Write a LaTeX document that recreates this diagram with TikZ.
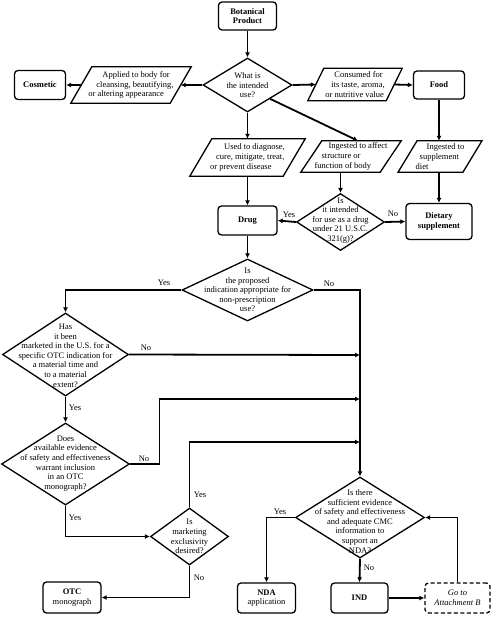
\documentclass[tikz,border=0pt]{standalone}
\usepackage{fontspec}
\setmainfont{Liberation Serif}
\usetikzlibrary{shapes.geometric,arrows.meta,calc}
\newcommand\mypara[7]{%
  \node[ptxt, minimum width=#4pt, minimum height=#5pt] (#1) at (#2,#3) {#7};
  \draw[shp] ([xshift=#6pt]#1.north west) -- ([xshift=#6pt]#1.north east) -- ([xshift=-#6pt]#1.south east) -- ([xshift=-#6pt]#1.south west) -- cycle;}
\begin{document}
\begin{tikzpicture}[x=1pt,y=-1pt,
  font=\fontsize{8.5}{9.6}\selectfont,
  shp/.style={line width=1.3pt, line join=miter},
  box/.style={draw, line width=1.3pt, rounded corners=3.5pt, align=center, inner sep=0pt},
  dashbox/.style={box, dashed, dash pattern=on 4pt off 2.5pt},
  dia/.style={draw, diamond, line width=1.3pt, inner sep=0pt},
  txt/.style={align=center, inner sep=0pt},
  ptxt/.style={align=left, inner sep=0pt},
  con/.style={line width=1.8pt, -{Latex[length=5pt,width=5pt]}},
  lab/.style={inner sep=0pt}
]
\fill[white] (0,0) rectangle (496,618);
\useasboundingbox (0,0) rectangle (496,618);

% boxes
\node[box, minimum width=58pt, minimum height=28pt] (bot) at (247.5,16) {\textbf{Botanical}\\\textbf{Product}};
\node[box, minimum width=51pt, minimum height=29pt] (cos) at (40,85) {\textbf{Cosmetic}};
\node[box, minimum width=51pt, minimum height=28pt] (food) at (439,85) {\textbf{Food}};
\node[box, minimum width=59pt, minimum height=29pt] (drug) at (247.5,220.5) {\textbf{Drug}};
\node[box, minimum width=66pt, minimum height=36pt] (diet) at (439,221.5) {\textbf{Dietary}\\\textbf{supplement}};
\node[box, minimum width=58pt, minimum height=31pt] (otc) at (72,597.5) {\textbf{OTC}\\monograph};
\node[box, minimum width=58pt, minimum height=30pt] (nda) at (266.5,598) {\textbf{NDA}\\application};
\node[box, minimum width=57pt, minimum height=30pt] (ind) at (359.5,598) {\textbf{IND}};
\node[dashbox, minimum width=65pt, minimum height=30pt] (att) at (457.5,598) {\textit{Go to}\\\textit{Attachment B}};

% diamonds
\node[dia, minimum width=89pt, minimum height=54pt] (d1) at (247.5,85) {};
\node[txt] (t1) at (247.5,85.5) {What is\\the intended\\use?};
\node[dia, minimum width=88pt, minimum height=57pt] (d2) at (340.5,222) {};
\node[txt] (t2) at (340.5,220.5) {Is\\it intended\\for use as a drug\\under 21 U.S.C.\\321(g)?};
\node[dia, minimum width=131pt, minimum height=62pt] (d3) at (247.5,290) {};
\node[txt] (t3) at (247.5,290) {Is\\the proposed\\indication appropriate for\\non-prescription\\use?};
\node[dia, minimum width=126pt, minimum height=83pt] (d4) at (65.5,354.5) {};
\node[txt] (t4) at (65.5,355.5) {Has\\it been\\marketed in the U.S. for a\\specific OTC indication for\\a material time and\\to a material\\extent?};
\node[dia, minimum width=128pt, minimum height=82pt] (d5) at (65.5,464) {};
\node[txt] (t5) at (65.5,463.5) {Does\\available evidence\\of safety and effectiveness\\warrant inclusion\\in an OTC\\monograph?};
\node[dia, minimum width=78pt, minimum height=57pt] (d6) at (189.5,536.5) {};
\node[txt] (t6) at (189.5,536.5) {Is\\marketing\\exclusivity\\desired?};
\node[dia, minimum width=129pt, minimum height=81pt] (d7) at (360,517.5) {};
\node[txt] (t7) at (360,521.5) {Is there\\sufficient evidence\\of safety and effectiveness\\and adequate CMC\\information to\\support an\\NDA?};

% parallelograms
\mypara{p1}{131}{85}{99}{36}{10.5}{\hspace*{14pt}Applied to body for\\\hspace*{8pt}cleansing, beautifying,\\or altering appearance}
\mypara{p2}{355}{84.5}{78}{32}{8}{\hspace*{9pt}Consumed for\\\hspace*{6pt}its taste, aroma,\\or nutritive value}
\mypara{p3}{247.5}{157.5}{93}{37}{11}{\hspace*{14pt}Used to diagnose,\\\hspace*{6pt}cure, mitigate, treat,\\or prevent disease}
\mypara{p4}{351}{156.5}{79}{31}{10.5}{\hspace*{14pt}Ingested to affect\\\hspace*{7pt}structure or\\function of body}
\mypara{p5}{440}{156.5}{64.5}{31}{9.5}{\hspace*{11pt}Ingested to\\\hspace*{4pt}supplement\\diet}

% coordinates
\coordinate (c1) at (159.5,399);
\coordinate (c2) at (360,399);
\coordinate (c3) at (360,442);
\coordinate (c4) at (360,355);

% connectors
\draw[con] (bot.south) -- (d1.north);
\draw[con] (d1.west) -- (p1.east);
\draw[con] (p1.west) -- (cos.east);
\draw[con] (d1.east) -- (p2.west);
\draw[con] (p2.east) -- (food.west);
\draw[con] (d1.south) -- (p3.north);
\draw[con] ($(d1.east)!0.5!(d1.south)$) -- ([xshift=7pt]p4.north);
\draw[con] (food.south) -- (food.south |- p5.north);
\draw[con] (diet.north |- p5.south) -- (diet.north);
\draw[con] (p3.south) -- (drug.north);
\draw[con] (d2.north |- p4.south) -- (d2.north);
\draw[con] (d2.west) -- (drug.east);
\draw[con] (d2.east) -- (diet.west);
\draw[con] (drug.south) -- (d3.north);
\draw[con] (d3.west) -| (d4.north);
\draw[con] (d3.east) -| (d7.north);
\draw[con] (d4.east) -- (c4);
\draw[con] (d4.south) -- (d5.north);
\draw[con] (d5.east) -| (c1) -- (c2);
\draw[con] (d5.south) |- (d6.west);
\draw[con] (d6.north) |- (c3);
\draw[con] (d6.south) |- (otc.east);
\draw[con] (d7.west) -| (nda.north);
\draw[con] (d7.south) -- (ind.north);
\draw[con] (ind.east) -- (att.west);
\draw[con] (att.north) |- (d7.east);

% labels
\node[lab] (l1) at (289,215) {Yes};
\node[lab] (l2) at (393,214) {No};
\node[lab] (l3) at (164,283) {Yes};
\node[lab] (l4) at (329,284) {No};
\node[lab] (l5) at (146,348) {No};
\node[lab] (l6) at (75,408) {Yes};
\node[lab] (l7) at (144,459) {No};
\node[lab] (l8) at (75,518) {Yes};
\node[lab] (l9) at (200,495) {Yes};
\node[lab] (l10) at (199,578) {No};
\node[lab] (l11) at (280,512) {Yes};
\node[lab] (l12) at (369,568) {No};
\end{tikzpicture}
\end{document}
